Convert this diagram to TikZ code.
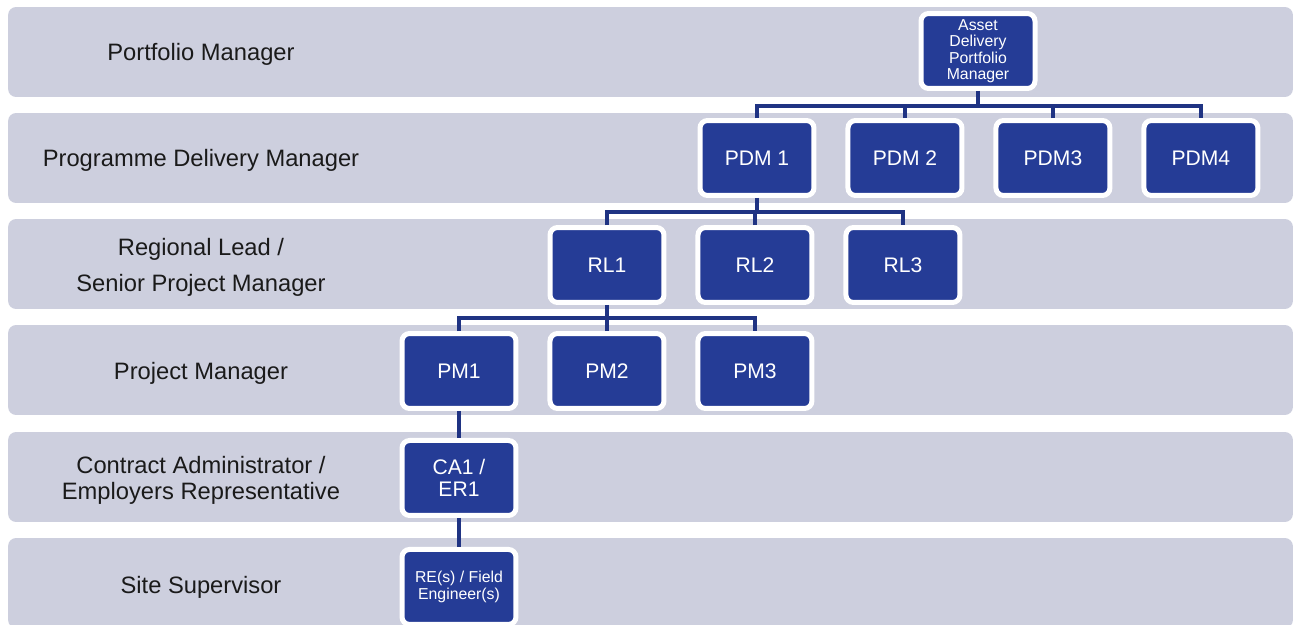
\documentclass[tikz,border=0pt]{standalone}
\usepackage{fontspec}
\setmainfont{Liberation Sans}
\usepackage{xcolor}
\usetikzlibrary{positioning}

\begin{document}
\begin{tikzpicture}[
  x=0.02cm, y=-0.02cm,
  node distance=5.4mm and 5.8mm,
  band/.style={
    fill=bandgrey,
    rounded corners=4.5pt,
    minimum width=25.7cm,
    minimum height=1.8cm,
    inner sep=0pt
  },
  levelname/.style={
    text=labelblack,
    align=center,
    yshift=-1.3pt,
    font=\fontsize{13.5}{15}\selectfont
  },
  role/.style={
    fill=roleblue,
    draw=white,
    line width=0.1cm,
    rounded corners=4.3pt,
    minimum width=2.28cm,
    minimum height=1.5cm,
    inner sep=2pt,
    text=white,
    align=center,
    font=\fontsize{12}{12.6}\selectfont
  },
  smallrole/.style={
    role,
    font=\fontsize{9}{9.4}\selectfont
  },
  link/.style={draw=linkblue,line width=0.095cm}
]
\definecolor{bandgrey}{HTML}{CDCFDE}
\definecolor{roleblue}{HTML}{253C96}
\definecolor{linkblue}{HTML}{1F3383}
\definecolor{labelblack}{HTML}{1A1A1A}

\useasboundingbox (0,0) rectangle (1298,625);
\clip (0,0) rectangle (1298,625);

% level bands
\node[band] (lvl1) at (650.5,52) {};
\node[band] (lvl2) at (650.5,158) {};
\node[band] (lvl3) at (650.5,264) {};
\node[band] (lvl4) at (650.5,370) {};
\node[band] (lvl5) at (650.5,477) {};
\node[band] (lvl6) at (650.5,583) {};

\node[levelname] (lvl1name) at (201,52) {Portfolio Manager};
\node[levelname] (lvl2name) at (201,158) {Programme Delivery Manager};
\node[levelname, font=\fontsize{13.5}{20.5}\selectfont] (lvl3name) at (201,265) {Regional Lead /\\Senior Project Manager};
\node[levelname] (lvl4name) at (201,371) {Project Manager};
\node[levelname] (lvl5name) at (201,478) {Contract Administrator /\\Employers Representative};
\node[levelname] (lvl6name) at (201,585) {Site Supervisor};

% roles
\node[smallrole] (adpm) at (978,51) {Asset\\Delivery\\Portfolio\\Manager};

\node[role] (pdm1) at (757,158) {PDM 1};
\node[role, right=of pdm1] (pdm2) {PDM 2};
\node[role, right=of pdm2] (pdm3) {PDM3};
\node[role, right=of pdm3] (pdm4) {PDM4};

\node[role] (rl1) at (607,265) {RL1};
\node[role, right=of rl1] (rl2) {RL2};
\node[role, right=of rl2] (rl3) {RL3};

\node[role] (pm1) at (459,371) {PM1};
\node[role, right=of pm1] (pm2) {PM2};
\node[role, right=of pm2] (pm3) {PM3};

\node[role, below=of pm1] (ca) {CA1 /\\ER1};
\node[smallrole, below=5.8mm of ca] (re) {RE(s) / Field\\Engineer(s)};

% reporting lines
\path (adpm.south) ++(0,15) coordinate (bus1);
\draw[link] (adpm.south) -- (bus1);
\draw[link] (pdm1.north) |- (bus1) -| (pdm4.north);
\draw[link] (pdm2.north) -- (pdm2.north |- bus1);
\draw[link] (pdm3.north) -- (pdm3.north |- bus1);

\path (pdm1.south) ++(0,14) coordinate (bus2);
\draw[link] (pdm1.south) -- (bus2);
\draw[link] (rl1.north) |- (bus2) -| (rl3.north);
\draw[link] (rl2.north) -- (rl2.north |- bus2);

\path (rl1.south) ++(0,13) coordinate (bus3);
\draw[link] (rl1.south) -- (bus3);
\draw[link] (pm1.north) |- (bus3) -| (pm3.north);
\draw[link] (pm2.north) -- (pm2.north |- bus3);

\draw[link] (pm1) -- (ca);
\draw[link] (ca) -- (re);
\end{tikzpicture}
\end{document}
